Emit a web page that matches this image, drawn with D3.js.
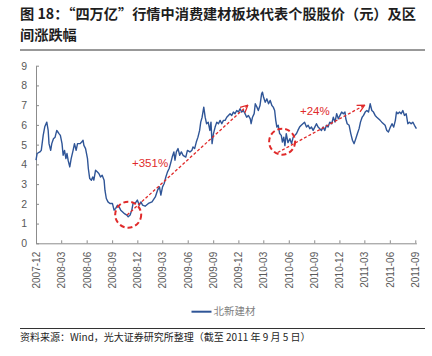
<!DOCTYPE html>
<html><head><meta charset="utf-8">
<script src="https://cdn.jsdelivr.net/npm/d3@7"></script>
<style>
html,body{margin:0;padding:0;background:#fff;}
svg{display:block;}
</style></head>
<body>
<svg id="c" width="432" height="356"></svg>
<script>
const titleLines = ["图 18：“四万亿”行情中消费建材板块代表个股股价（元）及区", "间涨跌幅"];
const sourceText = "资料来源：Wind，光大证券研究所整理（截至 2011 年 9 月 5 日）";
const seriesName = "北新建材";
const yTicks = [0,1,2,3,4,5,6,7,8,9];
const xTickLabels = ["2007-12","2008-03","2008-06","2008-09","2008-12","2009-03","2009-06","2009-09","2009-12","2010-03","2010-06","2010-09","2010-12","2011-03","2011-06","2011-09"];
const dates = ["2007-12-01","2007-12-05","2007-12-15","2007-12-20","2007-12-27","2008-01-02","2008-01-09","2008-01-14","2008-01-17","2008-01-23","2008-01-27","2008-02-02","2008-02-08","2008-02-14","2008-02-18","2008-02-22","2008-02-27","2008-03-04","2008-03-08","2008-03-13","2008-03-18","2008-03-22","2008-03-26","2008-04-01","2008-04-06","2008-04-13","2008-04-18","2008-04-24","2008-04-29","2008-05-08","2008-05-14","2008-05-19","2008-05-22","2008-05-28","2008-06-04","2008-06-07","2008-06-12","2008-06-18","2008-06-23","2008-06-27","2008-07-03","2008-07-09","2008-07-15","2008-07-21","2008-07-27","2008-08-03","2008-08-06","2008-08-11","2008-08-17","2008-08-24","2008-09-02","2008-09-08","2008-09-14","2008-09-20","2008-09-26","2008-10-02","2008-10-08","2008-10-14","2008-10-24","2008-10-29","2008-11-05","2008-11-11","2008-11-16","2008-11-23","2008-12-01","2008-12-08","2008-12-14","2008-12-20","2008-12-29","2009-01-10","2009-01-23","2009-02-04","2009-02-12","2009-02-19","2009-02-24","2009-03-02","2009-03-08","2009-03-14","2009-03-20","2009-03-26","2009-03-31","2009-04-06","2009-04-12","2009-04-16","2009-04-21","2009-04-27","2009-05-03","2009-05-09","2009-05-15","2009-05-25","2009-05-31","2009-06-09","2009-06-16","2009-06-20","2009-06-26","2009-07-02","2009-07-08","2009-07-14","2009-07-18","2009-07-23","2009-07-29","2009-08-03","2009-08-08","2009-08-14","2009-08-20","2009-08-24","2009-08-28","2009-09-02","2009-09-08","2009-09-14","2009-09-20","2009-09-26","2009-10-02","2009-10-08","2009-10-14","2009-10-20","2009-10-26","2009-11-01","2009-11-07","2009-11-13","2009-11-19","2009-11-25","2009-12-01","2009-12-07","2009-12-13","2009-12-19","2009-12-25","2009-12-31","2010-01-06","2010-01-13","2010-01-16","2010-01-21","2010-01-27","2010-01-31","2010-02-06","2010-02-11","2010-02-17","2010-02-23","2010-02-26","2010-03-02","2010-03-08","2010-03-14","2010-03-20","2010-03-26","2010-04-01","2010-04-06","2010-04-11","2010-04-15","2010-04-19","2010-04-24","2010-04-29","2010-05-05","2010-05-09","2010-05-14","2010-05-18","2010-05-23","2010-05-29","2010-06-05","2010-06-11","2010-06-17","2010-06-23","2010-06-29","2010-07-04","2010-07-10","2010-07-16","2010-07-22","2010-07-28","2010-08-04","2010-08-10","2010-08-16","2010-08-22","2010-08-28","2010-09-03","2010-09-09","2010-09-15","2010-09-21","2010-09-27","2010-10-03","2010-10-09","2010-10-15","2010-10-21","2010-10-27","2010-11-03","2010-11-09","2010-11-15","2010-11-21","2010-11-27","2010-12-03","2010-12-09","2010-12-15","2010-12-21","2010-12-24","2010-12-29","2011-01-05","2011-01-11","2011-01-17","2011-01-23","2011-01-29","2011-02-04","2011-02-10","2011-02-15","2011-02-21","2011-02-26","2011-03-04","2011-03-10","2011-03-16","2011-03-22","2011-03-28","2011-04-03","2011-04-09","2011-04-15","2011-04-21","2011-04-27","2011-05-03","2011-05-09","2011-05-15","2011-05-21","2011-05-27","2011-06-03","2011-06-09","2011-06-15","2011-06-21","2011-06-25","2011-06-30","2011-07-06","2011-07-12","2011-07-18","2011-07-24","2011-07-30","2011-08-05","2011-08-11","2011-08-17","2011-08-23","2011-08-29","2011-09-05"];
const prices = [4.21,4.55,4.63,4.71,5.47,5.92,6.14,5.72,5.05,4.71,5.05,5.30,5.38,5.72,5.64,5.56,5.47,5.05,4.46,4.71,4.29,4.55,4.21,3.87,4.29,4.71,5.05,4.71,5.05,5.05,5.13,5.22,4.96,4.80,4.29,3.79,3.28,3.20,3.36,3.20,3.70,3.62,3.54,3.36,3.45,3.20,2.69,2.27,2.10,2.02,2.02,1.68,1.77,1.93,1.85,1.68,1.60,1.52,1.43,1.34,1.43,1.68,2.05,2.02,2.19,1.93,2.10,1.93,1.88,2.02,2.10,2.35,2.69,2.86,2.44,2.86,3.03,3.36,3.62,3.79,4.04,4.37,4.63,4.21,4.63,4.80,4.46,4.63,4.46,4.37,4.71,4.63,4.71,4.88,4.80,5.13,5.38,5.72,6.14,6.39,6.90,6.39,6.06,6.14,5.72,6.14,5.05,5.56,5.89,6.14,6.06,6.23,6.06,6.23,6.23,6.39,6.48,6.57,6.48,6.65,6.57,6.73,6.65,6.82,6.65,6.73,6.57,6.39,6.48,6.31,6.06,6.39,6.57,7.07,6.90,6.73,6.98,7.58,7.66,7.40,7.15,7.32,7.07,7.24,6.98,6.90,6.73,6.23,5.89,5.98,5.56,5.47,5.13,5.38,4.95,5.56,5.10,5.30,5.05,5.38,5.47,5.56,5.72,5.89,5.98,6.06,6.14,5.89,5.98,5.81,5.89,5.72,5.89,6.06,5.89,5.81,5.72,5.89,5.72,5.98,5.89,6.14,6.06,6.39,6.14,6.57,6.31,6.48,6.65,6.57,6.65,6.31,6.06,5.98,5.56,5.22,5.05,5.30,5.56,5.81,6.14,6.39,6.48,6.65,6.73,6.65,7.07,6.73,6.65,6.48,6.39,6.31,6.23,6.14,6.06,5.98,5.72,5.64,5.89,6.06,5.89,6.23,6.65,6.57,6.65,6.57,6.73,6.48,6.57,6.06,6.14,6.06,6.14,5.98,5.81];
// annotations: [date, value]
const circleCenters = [["2008-10-29", 1.45], ["2010-05-08", 5.15]];
const arrows = [[["2008-10-25", 1.43], ["2010-01-04", 7.0]], [["2010-04-22", 4.6], ["2011-03-02", 7.0]]];
const arrowLabels = [["+351%", "2009-01-16", 4.08], ["+24%", "2010-09-03", 6.7]];

const parse = d3.timeParse("%Y-%m-%d");
const svg = d3.select("#c");
const red = "#e02a2a", blue = "#2f5597", axisCol = "#8c8c8c", labCol = "#595959";
const cjk = "'Noto Sans CJK SC','Noto Sans',sans-serif";

// title
svg.append("g").selectAll("text").data(titleLines).join("text")
  .attr("x", 20).attr("y", (d,i)=>18.5 + i*21)
  .attr("font-family", cjk).attr("font-weight", "bold").attr("font-size", 14.2)
  .attr("fill", "#1e1e1e").text(d=>d);
svg.append("line").attr("x1",20).attr("x2",425).attr("y1",50).attr("y2",50).attr("stroke","#333").attr("stroke-width",1);

const x = d3.scaleTime().domain([parse("2007-12-01"), parse("2011-09-05")]).range([36, 416.4]);
const y = d3.scaleLinear().domain([0, 9]).range([243.3, 65.7]);

// y axis
const ya = svg.append("g").attr("transform","translate(36,0)")
  .call(d3.axisLeft(y).tickValues(yTicks).tickSizeInner(-3).tickSizeOuter(0).tickPadding(9));
ya.select(".domain").attr("stroke", axisCol);
ya.selectAll(".tick line").attr("stroke", axisCol);
ya.selectAll(".tick text").attr("fill", labCol).attr("font-size", 10.5).attr("font-family","'Liberation Sans',Arial,sans-serif");

// x axis
const xTickDates = xTickLabels.map(s=>parse(s+"-01"));
const xa = svg.append("g").attr("transform","translate(0,243.3)")
  .call(d3.axisBottom(x).tickValues(xTickDates).tickSizeInner(-3).tickSizeOuter(0)
    .tickFormat((d,i)=>xTickLabels[i]));
xa.select(".domain").attr("stroke", axisCol);
xa.selectAll(".tick line").attr("stroke", axisCol);
xa.selectAll(".tick text").attr("fill", labCol).attr("font-size", 10).attr("font-family","'Liberation Sans',Arial,sans-serif")
  .attr("transform","rotate(-90)").attr("text-anchor","end").attr("x",-8.5).attr("y",0).attr("dy","0.35em");

// series
const data = dates.map((d,i)=>({date: parse(d), v: prices[i]}));
svg.append("path").datum(data)
  .attr("fill","none").attr("stroke", blue).attr("stroke-width", 1.4).attr("stroke-linejoin","round")
  .attr("d", d3.line().x(d=>x(d.date)).y(d=>y(d.v)));

// annotations
const defs = svg.append("defs");
defs.append("marker").attr("id","ah").attr("viewBox","0 0 10 10").attr("refX",9).attr("refY",5)
  .attr("markerWidth",9).attr("markerHeight",9).attr("markerUnits","userSpaceOnUse").attr("orient","auto")
  .append("path").attr("d","M1,1 L9,5 L1,9").attr("fill","none").attr("stroke",red).attr("stroke-width",1.4);

svg.append("g").selectAll("line").data(arrows).join("line")
  .attr("x1", d=>x(parse(d[0][0]))).attr("y1", d=>y(d[0][1]))
  .attr("x2", d=>x(parse(d[1][0]))).attr("y2", d=>y(d[1][1]))
  .attr("stroke", red).attr("stroke-width", 1.3).attr("stroke-dasharray","3,2")
  .attr("marker-end","url(#ah)");

svg.append("g").selectAll("circle").data(circleCenters).join("circle")
  .attr("cx", d=>x(parse(d[0]))).attr("cy", d=>y(d[1])).attr("r", 13)
  .attr("fill","none").attr("stroke", red).attr("stroke-width", 2).attr("stroke-dasharray","5,3");

svg.append("g").selectAll("text").data(arrowLabels).join("text")
  .attr("x", d=>x(parse(d[1]))).attr("y", d=>y(d[2])).attr("dy","0.35em")
  .attr("text-anchor","middle").attr("fill", red).attr("font-size", 11.5)
  .attr("font-family","'Liberation Sans',Arial,sans-serif").text(d=>d[0]);

// legend
svg.append("line").attr("x1",191.5).attr("x2",211.5).attr("y1",311.7).attr("y2",311.7).attr("stroke",blue).attr("stroke-width",2);
svg.append("text").attr("x",213.5).attr("y",311.7).attr("dy","0.35em").attr("font-size",10.5)
  .attr("font-family",cjk).attr("fill","#7f7f7f").text(seriesName);

// footer
svg.append("line").attr("x1",20).attr("x2",425).attr("y1",328.5).attr("y2",328.5).attr("stroke","#333").attr("stroke-width",1);
svg.append("text").attr("x",20).attr("y",341).attr("font-size",10).attr("font-family",cjk).attr("fill","#1e1e1e").text(sourceText);
</script>
</body></html>
